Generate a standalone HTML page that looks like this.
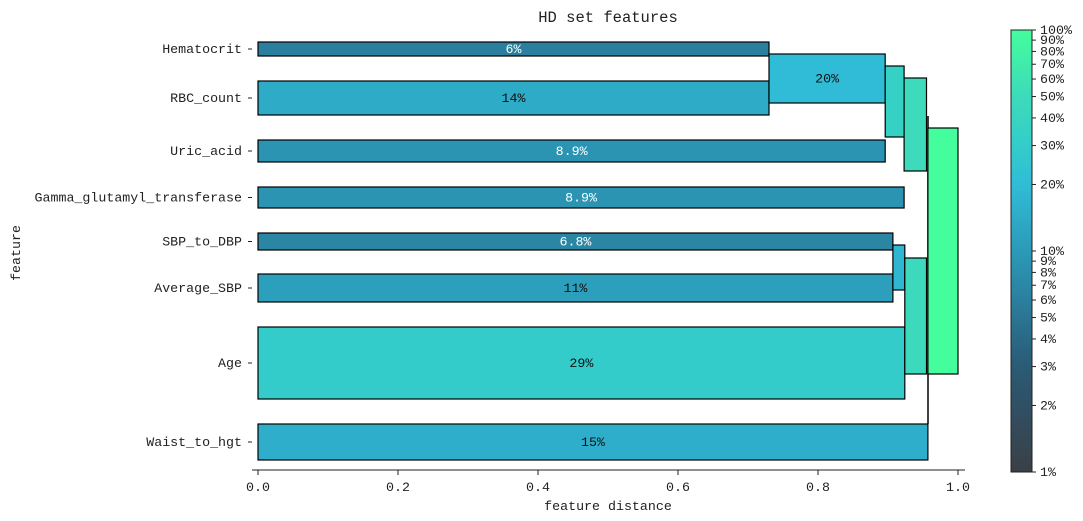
<!DOCTYPE html>
<html><head><meta charset="utf-8"><style>
body{margin:0;background:#fff;width:1083px;height:521px;overflow:hidden}
svg{display:block;font-family:"Liberation Mono",monospace}
</style></head><body>
<svg id="c" width="1083" height="521"></svg>
<script>
const features=["Hematocrit","RBC_count","Uric_acid","Gamma_glutamyl_transferase","SBP_to_DBP","Average_SBP","Age","Waist_to_hgt"];
const distances=[0.730,0.730,0.896,0.923,0.907,0.907,0.924,0.957];
const importance=[6,14,8.9,8.9,6.8,11,29,15];
const importanceLabels=["6%","14%","8.9%","8.9%","6.8%","11%","29%","15%"];
const barTop=[42,81,140,187,233,274,327,424];
const barBottom=[56,115,162,208,250,302,399,460];
const clusterStart=[0.730,0.896,0.923,0.907,0.924,0.957];
const clusterEnd=[0.896,0.923,0.955,0.924,0.955,1.0];
const clusterTop=[54,66,78,245,258,128];
const clusterBottom=[103,137,171,290,374,374];
const clusterImp=[20,35,50,18,47,100];
const clusterLabel=["20%","","","","",""];
const xTicks=[0,0.2,0.4,0.6,0.8,1.0];
const cbTicks=[1,2,3,4,5,6,7,8,9,10,20,30,40,50,60,70,80,90,100];

const NS="http://www.w3.org/2000/svg";
const svg=document.getElementById('c');
const FS=13.3;
function el(t,a,p){const e=document.createElementNS(NS,t);for(const k in a)e.setAttribute(k,a[k]);(p||svg).appendChild(e);return e;}
const X0=258,X1=958;
const xs=v=>X0+(X1-X0)*v;
const cbTop=30,cbBot=472;
const cbY=p=>cbBot-(cbBot-cbTop)*(Math.log10(p)/2);
const stops=[[1,[59,63,70]],[3,[42,90,117]],[6,[43,127,158]],[10,[43,154,184]],[20,[48,188,214]],[30,[51,205,201]],[50,[61,219,187]],[100,[68,253,156]]];
function col(p){p=Math.max(1,Math.min(100,p));for(let i=0;i<stops.length-1;i++){const[a,ca]=stops[i],[b,cb]=stops[i+1];if(p<=b){const t=(Math.log(p)-Math.log(a))/(Math.log(b)-Math.log(a));return 'rgb('+ca.map((c,j)=>Math.round(c+(cb[j]-c)*t)).join(',')+')';}}return 'rgb(68,253,156)';}

let t=el('text',{x:608,y:22,'text-anchor':'middle','font-size':15.5,fill:'#222'});t.textContent='HD set features';



let ln=el('line',{x1:928,y1:116,x2:928,y2:424,stroke:'#000','stroke-width':1.5});



features.forEach((f,i)=>{
  const r=el('rect',{x:xs(0),y:barTop[i],width:xs(distances[i])-xs(0),height:barBottom[i]-barTop[i],fill:col(importance[i]),stroke:'#000','stroke-width':1.2});
  
  
  const cy=(barTop[i]+barBottom[i])/2;
  const lb=el('text',{x:(xs(0)+xs(distances[i]))/2,y:cy+4,'text-anchor':'middle','font-size':FS,fill:importance[i]<10?'#fff':'#111'});lb.textContent=importanceLabels[i];
  
  
  el('line',{x1:248,y1:cy,x2:252,y2:cy,stroke:'#222'});
  const yl=el('text',{x:242,y:cy+4,'text-anchor':'end','font-size':FS,fill:'#222'});yl.textContent=f;
  
  
});
clusterStart.forEach((s,i)=>{
  const r=el('rect',{x:xs(s),y:clusterTop[i],width:xs(clusterEnd[i])-xs(s),height:clusterBottom[i]-clusterTop[i],fill:col(clusterImp[i]),stroke:'#000','stroke-width':1.2});
  
  
  if(clusterLabel[i]){const l=el('text',{x:(xs(s)+xs(clusterEnd[i]))/2,y:(clusterTop[i]+clusterBottom[i])/2+4,'text-anchor':'middle','font-size':FS,fill:'#111'});l.textContent=clusterLabel[i];
  
  }
});
el('line',{x1:252,y1:470,x2:965,y2:470,stroke:'#222'});
xTicks.forEach(v=>{el('line',{x1:xs(v),y1:470,x2:xs(v),y2:475,stroke:'#222'});
  const tl=el('text',{x:xs(v),y:491,'text-anchor':'middle','font-size':FS,fill:'#222'});tl.textContent=v.toFixed(1);
  
  });
let xl=el('text',{x:608,y:510,'text-anchor':'middle','font-size':FS,fill:'#222'});xl.textContent='feature distance';


let yt=el('text',{x:0,y:0,'text-anchor':'middle','font-size':FS,fill:'#222',transform:'translate(20,253) rotate(-90)'});yt.textContent='feature';


const defs=el('defs',{});const g=el('linearGradient',{id:'cg',x1:0,y1:1,x2:0,y2:0},defs);
for(let k=0;k<=20;k++){const p=Math.pow(10,k/10);el('stop',{offset:k/20,'stop-color':col(p)},g);}
let cb=el('rect',{x:1011,y:cbTop,width:21,height:cbBot-cbTop,fill:'url(#cg)',stroke:'#222','stroke-width':1});


cbTicks.forEach(p=>{const y=cbY(p);el('line',{x1:1032,y1:y,x2:1036,y2:y,stroke:'#222'});
  const l=el('text',{x:1040,y:y+4,'font-size':FS,fill:'#222'});l.textContent=p+'%';
  
  });
</script>
</body></html>
